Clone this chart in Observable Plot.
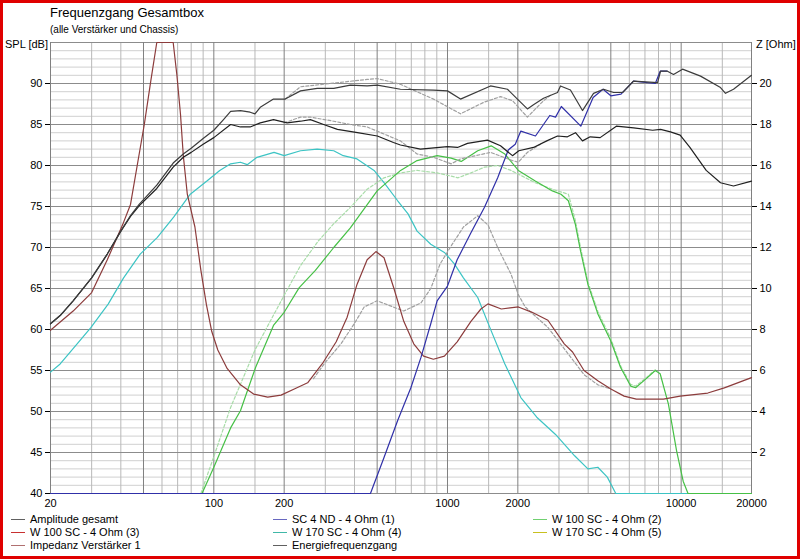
<!DOCTYPE html>
<html>
<head>
<meta charset="utf-8">
<script src="https://cdn.jsdelivr.net/npm/d3@7"></script>
<script src="https://cdn.jsdelivr.net/npm/@observablehq/plot@0.6"></script>
<style>
  body { margin: 0; background: #fff; }
  #wrap { position: relative; width: 800px; height: 559px; background: #fff; overflow: hidden; font-family: "Liberation Sans", Arial, sans-serif; color: #000; }
  #chart { position: absolute; left: 0; top: 0; }
  .t { position: absolute; white-space: nowrap; }
  #border { position: absolute; left: 0; top: 0; width: 800px; height: 559px; box-sizing: border-box; border: 3px solid #e00000; pointer-events: none; }
  .leg { position: absolute; font-size: 11px; line-height: 13px; white-space: nowrap; }
  .sw { position: absolute; height: 0; border-top: 1.5px solid; width: 14px; }
</style>
</head>
<body>
<div id="wrap">
  <div id="chart"></div>
  <div class="t" style="left:50px;top:5px;font-size:13px;">Frequenzgang Gesamtbox</div>
  <div class="t" style="left:50px;top:24px;font-size:10px;">(alle Verstärker und Chassis)</div>
  <div class="t" style="left:5px;top:38px;font-size:11px;">SPL [dB]</div>
  <div class="t" style="left:756px;top:38px;font-size:11px;">Z [Ohm]</div>
  <div id="legend"></div>
  <div id="border"></div>
</div>
<script>
// ---- tick / grid values ----
const xTickLabels = [20, 50, 100, 200, 500, 1000, 2000, 5000, 10000, 20000];
const xMinorGrid = [30, 40, 60, 70, 80, 90, 150, 300, 400, 600, 700, 800, 900, 1500, 3000, 4000, 6000, 7000, 8000, 9000, 15000];
const splTicks = [40, 45, 50, 55, 60, 65, 70, 75, 80, 85, 90];
const splMajorGrid = [40, 45, 50, 55, 60, 65, 70, 75, 80, 85, 90, 95];
const splMinorGrid = d3.range(41, 95).filter(v => v % 5 !== 0);
const zTicks = [2, 4, 6, 8, 10, 12, 14, 16, 18, 20];

// ---- series (frequency Hz, SPL dB) ----
const amplitudeGesamt = [[20,60.7],[22,61.7],[25,63.5],[30,66.3],[35,69.2],[40,72.0],[44,73.9],[48,75.3],[57,77.6],[67,80.3],[74,81.4],[80,82.1],[90,83.3],[100,84.3],[110,85.6],[118,86.6],[130,86.7],[143,86.5],[150,86.3],[158,87.1],[180,88.1],[202,88.1],[235,89.1],[277,89.4],[326,89.4],[384,89.8],[453,89.7],[501,89.8],[629,89.3],[871,89.2],[1000,89.1],[1137,88.1],[1528,89.7],[1806,89.3],[1992,88.1],[2198,86.9],[2333,87.4],[2576,88.2],[2957,88.9],[3045,89.7],[3359,89.2],[3782,86.7],[4217,88.8],[4655,89.3],[5140,88.9],[5616,88.9],[6260,90.3],[7925,90.1],[8164,91.5],[8736,91.5],[9275,91.1],[10136,91.75],[12106,90.9],[14735,89.5],[15480,88.8],[16750,89.3],[20000,91.0]];
const energiefrequenzgang = [[20,60.7],[22,61.7],[25,63.5],[30,66.3],[35,69.2],[40,72.0],[44,73.8],[48,75.1],[57,77.2],[67,79.8],[74,81.0],[80,81.6],[90,82.6],[100,83.4],[118,85.0],[130,84.7],[143,84.7],[158,85.2],[180,85.6],[206,85.2],[235,85.4],[259,85.6],[295,85.0],[338,84.4],[412,84.0],[501,83.6],[587,82.8],[629,82.5],[766,82.0],[1000,82.3],[1104,82.2],[1218,82.7],[1483,83.1],[1686,82.4],[1897,81.2],[2020,81.8],[2333,82.2],[2660,83.0],[2957,83.6],[3260,83.5],[3530,84.0],[3782,83.0],[4080,83.5],[4500,83.4],[5280,84.8],[6260,84.6],[7550,84.3],[8164,84.4],[9000,84.1],[9900,83.7],[10900,82.2],[12800,79.4],[14735,77.9],[16750,77.5],[20000,78.1]];
const sc4nd = [[20,40],[468,40],[535,44.4],[612,48.9],[697,52.9],[770,56.6],[848,60.7],[903,63.5],[1000,65.3],[1100,68.5],[1260,71.8],[1440,74.9],[1640,78.5],[1820,81.9],[1950,82.6],[2060,84.2],[2380,83.6],[2740,86.1],[2900,85.9],[3070,87.2],[3720,84.8],[4200,88.3],[4630,89.3],[5000,88.5],[5530,88.7],[6250,90.3],[7750,90.0],[8130,91.5],[8700,91.5]];
const w100sc2 = [[20,40],[89,40],[100,43.2],[118,48.0],[130,50.1],[151,55.4],[180,60.5],[200,62.1],[232,65.1],[272,67.2],[326,70.0],[384,72.4],[500,76.9],[630,79.4],[741,80.6],[903,81.2],[1037,80.9],[1145,80.5],[1347,81.8],[1538,82.4],[1760,81.4],[2010,79.4],[2375,78.1],[2810,76.9],[3060,76.5],[3290,75.7],[3520,72.9],[3710,69.6],[3990,65.5],[4400,61.9],[5000,58.6],[5500,55.4],[6080,53.1],[6380,52.9],[7150,54.1],[7750,55.0],[8130,54.6],[8820,50.9],[9560,45.2],[10200,41.5],[10700,40],[20000,40]];
const w170sc4 = [[20,54.8],[22,55.8],[25.2,57.8],[29.7,60.2],[35.3,63.1],[41.1,66.3],[48.4,69.2],[57.2,71.2],[67.3,73.7],[79.3,76.5],[93.4,78.1],[106,79.4],[118,80.2],[130,80.4],[139,80.1],[153,81.0],[181,81.6],[200,81.2],[235,81.8],[277,82.0],[326,81.8],[358,81.2],[410,80.8],[485,79.4],[535,77.9],[612,75.7],[678,74.1],[741,72.0],[848,70.4],[970,69.4],[1070,68.0],[1170,66.3],[1347,63.9],[1540,59.8],[1760,55.8],[2060,51.7],[2410,49.3],[2900,47.2],[3500,44.6],[3990,43.0],[4400,43.2],[4830,42.0],[5250,40],[20000,40]];
const w100sc2Ref = [[88,40],[100,44.5],[118,50.5],[150,57.5],[175,61.1],[203,64.5],[235,67.8],[280,70.8],[326,72.9],[384,74.9],[453,77.1],[535,78.5],[630,79.1],[741,79.4],[903,79.1],[1110,78.5],[1260,79.1],[1440,79.8],[1640,80.0],[1870,79.4],[2375,77.9],[2810,77.1],[3290,76.5],[3520,73.4],[3710,70.0],[3990,65.8],[4400,62.2],[5000,58.9],[5500,55.6],[6080,53.3],[6380,53.1],[7150,54.2],[7750,55.1]];
const amplitudeRef = [[202,88.1],[235,89.6],[326,90.05],[453,90.5],[501,90.6],[629,89.9],[871,88.1],[1137,86.3],[1428,87.7],[1686,88.4],[1897,87.9],[2198,85.9],[2576,87.9],[2800,88.7]];
const energieRef = [[200,85.2],[235,85.9],[259,85.9],[326,85.4],[384,85.0],[453,84.7],[629,83.0],[741,81.4],[871,81.0],[1037,80.2],[1137,80.8],[1528,81.6],[1897,80.6],[2010,80.4],[2198,81.6],[2500,82.6]];

// ---- impedance series (frequency Hz, Z Ohm) on right axis ----
const impedanzVerstaerker1 = [[20,7.96],[25,8.9],[30,9.8],[35,11.4],[41,13.2],[44,14.1],[47,16.0],[50.4,18.0],[53.7,20.1],[57,22],[67,22],[69.5,20.4],[72,18.5],[74,16.5],[77,14.6],[83,13.0],[88,10.9],[93,9.2],[98,7.9],[104,7.0],[114,6.1],[130,5.3],[148,4.85],[170,4.7],[194,4.8],[221,5.1],[252,5.4],[294,6.4],[334,7.4],[372,8.6],[410,10.2],[453,11.4],[494,11.8],[535,11.5],[590,10.0],[650,8.4],[717,7.3],[790,6.7],[870,6.55],[970,6.7],[1100,7.4],[1260,8.4],[1390,9.0],[1490,9.25],[1700,9.0],[2010,9.1],[2290,8.85],[2690,8.45],[3160,7.3],[3430,6.9],[3840,6.0],[4400,5.5],[5000,5.1],[5700,4.75],[6430,4.6],[8400,4.6],[9900,4.75],[13000,4.9],[15300,5.15],[20000,5.65]];
const impedanzRef = [[267,5.6],[300,6.4],[350,7.3],[400,8.3],[440,9.1],[500,9.4],[570,9.15],[650,8.9],[770,9.3],[848,10.0],[930,11.2],[1040,12.1],[1170,13.0],[1347,13.55],[1490,13.1],[1640,12.0],[1870,10.7],[2010,9.7],[2150,9.1],[2690,8.1],[3290,6.8],[3840,5.8],[4400,5.3],[5000,5.1]];

// ---- legend ----
const legendLabels = ["Amplitude gesamt","W 100 SC - 4 Ohm (3)","Impedanz Verstärker 1","SC 4 ND - 4 Ohm (1)","W 170 SC - 4 Ohm (4)","Energiefrequenzgang","W 100 SC - 4 Ohm (2)","W 170 SC - 4 Ohm (5)"];
const legendColors = ["#606060","#c83030","#b07070","#6868c0","#40b8a8","#606060","#70d070","#c8c020"];

// Z (Ohm) -> SPL position on the shared scale: Z 0 at 40 dB, 2 Ohm per 5 dB
const zToDb = z => 40 + 2.5 * z;

const splLine = (data, stroke, extra = {}) => Plot.line(data, {x: d => d[0], y: d => d[1], stroke, strokeWidth: 1.2, ...extra});
const zLine = (data, stroke, extra = {}) => Plot.line(data, {x: d => d[0], y: d => zToDb(d[1]), stroke, strokeWidth: 1.2, ...extra});

const chart = Plot.plot({
  width: 800,
  height: 515,
  marginLeft: 50,
  marginRight: 49,
  marginTop: 42,
  marginBottom: 22,
  x: {type: "log", domain: [20, 20000]},
  y: {domain: [40, 95]},
  style: {background: "transparent", color: "#000", fontFamily: "Liberation Sans, Arial, sans-serif", fontSize: "11px"},
  marks: [
    Plot.ruleY(splMinorGrid, {stroke: "#d0d0d0", strokeWidth: 1}),
    Plot.ruleX(xMinorGrid, {stroke: "#b8b8b8", strokeWidth: 1}),
    Plot.ruleY(splMajorGrid, {stroke: "#8c8c8c", strokeWidth: 1}),
    Plot.ruleX(xTickLabels, {stroke: "#808080", strokeWidth: 1}),
    Plot.axisX(xTickLabels, {tickSize: 0, tickPadding: 6, tickFormat: d => String(d), label: null, fontSize: 11}),
    Plot.axisY(splTicks, {anchor: "left", tickSize: 5, tickPadding: 3, label: null, fontSize: 11}),
    Plot.axisY(zTicks.map(zToDb), {anchor: "right", tickSize: 5, tickPadding: 3, tickFormat: d => String((d - 40) / 2.5), label: null, fontSize: 11}),
    splLine(w170sc4, "#3cc4c4"),
    splLine(w100sc2Ref, "#a8dca8", {strokeDasharray: "3,2"}),
    splLine(w100sc2, "#46c046"),
    zLine(impedanzRef, "#a0a0a0", {strokeDasharray: "3,2"}),
    splLine(energieRef, "#a0a0a0", {strokeDasharray: "3,2"}),
    splLine(amplitudeRef, "#a0a0a0", {strokeDasharray: "3,2"}),
    zLine(impedanzVerstaerker1, "#8c3c3c"),
    splLine(sc4nd, "#3030a8"),
    splLine(energiefrequenzgang, "#202020"),
    splLine(amplitudeGesamt, "#3c3c3c")
  ]
});
document.getElementById("chart").appendChild(chart);

// legend layout: 3 columns x 3 rows
const legend = document.getElementById("legend");
const colX = [11, 273, 533];
const rowY = [513, 526, 539];
legendLabels.forEach((label, i) => {
  const c = Math.floor(i / 3), r = i % 3;
  const sw = document.createElement("div");
  sw.className = "sw";
  sw.style.left = colX[c] + "px";
  sw.style.top = (rowY[r] + 6) + "px";
  sw.style.borderTopColor = legendColors[i];
  legend.appendChild(sw);
  const t = document.createElement("div");
  t.className = "leg";
  t.style.left = (colX[c] + 19) + "px";
  t.style.top = rowY[r] + "px";
  t.textContent = label;
  legend.appendChild(t);
});
</script>
</body>
</html>
